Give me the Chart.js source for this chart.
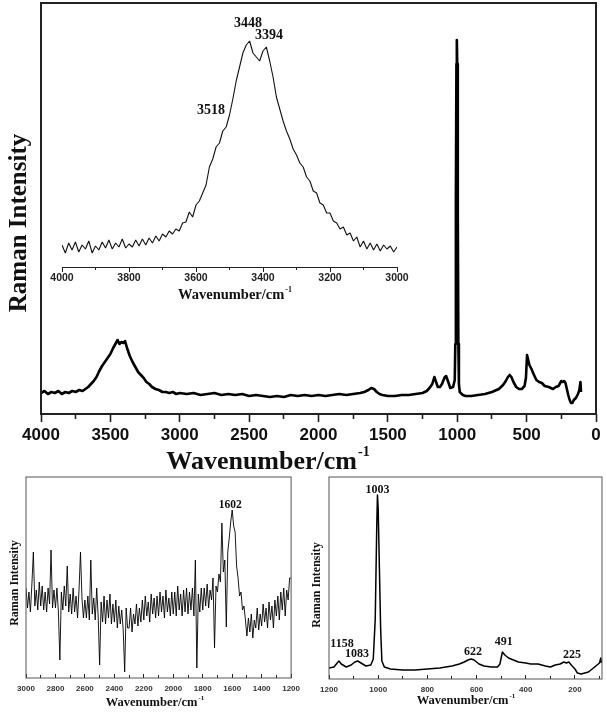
<!DOCTYPE html>
<html>
<head>
<meta charset="utf-8">
<script src="https://cdn.jsdelivr.net/npm/chart.js@4.4.0/dist/chart.umd.min.js"></script>
<style>
html, body { margin: 0; padding: 0; background: #fff; }
#wrap { position: relative; width: 607px; height: 720px; overflow: hidden; }
canvas { position: absolute; }
</style>
</head>
<body>
<div id="wrap">
  <canvas id="main" width="607" height="480" style="left:0px;top:0px"></canvas>
  <canvas id="inset" width="420" height="310" style="left:0px;top:0px"></canvas>
  <canvas id="left" width="310" height="250" style="left:0px;top:470px"></canvas>
  <canvas id="right" width="307" height="250" style="left:300px;top:470px"></canvas>
</div>
<script>
// full spectrum (wavenumber / relative intensity)
var MAIN_WN = [4000,3975,3950,3925,3900,3875,3850,3825,3800,3775,3750,3725,3700,3680,3660,3640,3620,3600,3580,3560,3540,3520,3500,3480,3460,3448,3435,3420,3405,3394,3380,3360,3340,3320,3300,3280,3260,3240,3220,3200,3175,3150,3125,3100,3075,3050,3025,3000,2950,2900,2850,2800,2750,2700,2650,2600,2550,2500,2450,2400,2350,2300,2250,2200,2150,2100,2050,2000,1950,1900,1850,1800,1750,1700,1670,1640,1620,1600,1580,1560,1540,1500,1450,1400,1350,1300,1250,1220,1200,1180,1165,1155,1140,1125,1110,1090,1080,1065,1050,1030,1018,1014,1010,1006,1003,1000,996,992,988,982,975,960,940,900,850,800,750,700,670,650,635,622,610,595,575,555,535,515,505,497,490,480,465,450,430,410,390,370,340,310,290,270,250,240,230,220,210,200,190,180,170,160,145,130,120,112,108];
var MAIN_INT = [21,23,20,22,21,23,20,22,21,23,22,24,23,25,27,30,33,37,43,48,52,56,60,66,71,74,70,72,71,73,66,58,52,47,42,39,36,32,30,27,25,24,22,22,21,22,20,21,20,21,19,20,21,19,20,19,20,18,19,18,17,18,17,19,18,19,18,19,18,19,20,19,20,21,22,24,26,25,22,20,19,18,18,19,19,20,21,23,26,30,37,33,27,27,30,37,38,32,26,27,34,70,210,350,374,350,200,70,30,22,21,19,18,18,19,20,22,25,29,33,37,39,37,32,27,25,25,28,36,59,55,49,45,40,34,32,31,28,27,25,27,28,33,32,33,31,25,19,14,11,11,14,16,20,24,32,22];
var MAIN_MAJOR = [4000,3500,3000,2500,2000,1500,1000,500,0];
var MAIN_MINOR = [3750,3250,2750,2250,1750,1250,750,250];

// inset: O-H stretching region
var INSET_WN = [4000,3990,3980,3970,3960,3950,3940,3930,3920,3910,3900,3890,3880,3870,3860,3850,3840,3830,3820,3810,3800,3790,3780,3770,3760,3750,3740,3730,3720,3710,3700,3690,3680,3670,3660,3650,3640,3630,3620,3610,3600,3590,3580,3570,3560,3550,3540,3530,3520,3510,3500,3490,3480,3470,3460,3450,3440,3430,3420,3410,3400,3390,3380,3370,3360,3350,3340,3330,3320,3310,3300,3290,3280,3270,3260,3250,3240,3230,3220,3210,3200,3190,3180,3170,3160,3150,3140,3130,3120,3110,3100,3090,3080,3070,3060,3050,3040,3030,3020,3010,3000];
var INSET_INT = [22,14,24,17,25,15,22,18,26,14,21,17,25,19,27,18,24,20,28,19,23,20,27,21,28,22,29,24,31,26,33,30,36,33,38,36,44,45,55,50,62,66,74,82,100,108,120,124,136,140,152,168,186,200,214,222,226,214,210,206,216,220,206,190,170,158,146,136,128,118,112,104,100,90,86,76,74,64,62,54,54,46,44,38,40,32,34,26,30,20,26,18,24,17,23,16,22,18,21,15,20];
var INSET_MAJOR = [4000,3800,3600,3400,3200,3000];
var INSET_MINOR = [3900,3700,3500,3300,3100];
var INSET_PEAKS = [3448,3394,3518];

// lower left: 3000-1200 region
var LEFT_WN = [3000,2990,2980,2970,2960,2950,2940,2930,2920,2910,2900,2890,2880,2870,2860,2850,2840,2830,2820,2810,2800,2790,2780,2770,2760,2750,2740,2730,2720,2710,2700,2690,2680,2670,2660,2650,2640,2630,2620,2610,2600,2590,2580,2570,2560,2550,2540,2530,2520,2510,2500,2490,2480,2470,2460,2450,2440,2430,2420,2410,2400,2390,2380,2370,2360,2350,2340,2330,2320,2310,2300,2290,2280,2270,2260,2250,2240,2230,2220,2210,2200,2190,2180,2170,2160,2150,2140,2130,2120,2110,2100,2090,2080,2070,2060,2050,2040,2030,2020,2010,2000,1990,1980,1970,1960,1950,1940,1930,1920,1910,1900,1890,1880,1870,1860,1850,1840,1830,1820,1810,1800,1790,1780,1770,1760,1750,1740,1730,1720,1710,1700,1690,1680,1670,1660,1650,1640,1630,1620,1610,1600,1590,1580,1570,1560,1550,1540,1530,1520,1510,1500,1490,1480,1470,1460,1450,1440,1430,1420,1410,1400,1390,1380,1370,1360,1350,1340,1330,1320,1310,1300,1290,1280,1270,1260,1250,1240,1230,1220,1210,1200];
var LEFT_INT = [90,70,86,66,94,126,72,88,68,96,72,92,68,86,66,90,74,128,70,88,70,90,66,18,86,68,92,72,112,66,84,64,90,66,82,60,88,126,80,60,78,60,82,58,118,64,80,58,90,62,13,76,56,82,54,78,60,84,54,74,56,78,50,72,54,68,48,6,70,50,50,70,46,64,54,74,52,70,56,78,58,82,62,76,56,84,64,80,60,82,62,86,66,82,60,88,66,80,62,86,64,86,62,92,68,84,62,88,66,90,64,86,68,90,62,118,10,84,66,90,68,90,72,94,70,88,78,100,30,92,86,104,96,155,106,118,51,126,140,156,168,152,146,112,100,82,86,68,72,58,42,60,46,64,40,58,50,70,48,64,52,74,56,70,50,76,58,72,50,78,62,82,58,86,68,90,62,88,78,100,100];
var LEFT_MAJOR = [3000,2800,2600,2400,2200,2000,1800,1600,1400,1200];
var LEFT_MINOR = [2900,2700,2500,2300,2100,1900,1700,1500,1300];
var LEFT_PEAKS = [1602];

// lower right: 1200-100 region
var RIGHT_WN = [1200,1180,1170,1160,1150,1130,1110,1095,1083,1070,1050,1030,1020,1012,1006,1003,1000,995,990,985,975,950,900,850,800,750,700,670,650,635,622,610,590,570,540,515,505,495,485,470,450,430,400,380,350,320,300,280,260,245,235,225,215,200,190,175,160,145,130,115,100,95,92];
var RIGHT_INT = [11,12,15,18,15,12,14,17,18,16,13,14,20,60,150,184,170,110,50,18,12,10,9,9,10,11,13,15,17,19,20,19,15,13,12,12,15,27,24,21,19,17,16,15,15,13,12,14,15,17,16,17,14,10,6,5,6,7,10,13,16,21,16];
var RIGHT_MAJOR = [1200,1000,800,600,400,200];
var RIGHT_MINOR = [1100,900,700,500,300,100];
var RIGHT_PEAKS = [1003,1158,1083,622,491,225];

function pts(xs, ys) {
  return xs.map(function (x, i) { return { x: x, y: ys[i] }; });
}

// axis titles, peak labels and the box round the plot
var textPlugin = {
  id: 'texts',
  afterDraw: function (chart, args, opts) {
    var ctx = chart.ctx;
    var xs = chart.scales.x, ys = chart.scales.y;
    ctx.save();
    ctx.fillStyle = '#111';
    ctx.textBaseline = 'middle';
    ctx.textAlign = 'center';
    (opts.peaks || []).forEach(function (p) {
      ctx.font = 'bold ' + p.size + 'px "Liberation Serif"';
      ctx.fillText(p.text, xs.getPixelForValue(p.wn), ys.getPixelForValue(p.v));
    });
    (opts.titles || []).forEach(function (t) {
      var base = 'bold ' + t.size + 'px "Liberation Serif"';
      var small = 'bold ' + Math.round(t.size * 0.55) + 'px "Liberation Serif"';
      ctx.save();
      ctx.translate(t.x, t.y);
      if (t.rot) ctx.rotate(t.rot);
      ctx.font = base;
      var w = ctx.measureText(t.text).width;
      var sw = 0;
      if (t.sup) { ctx.font = small; sw = ctx.measureText(t.sup).width + 1; }
      var x0 = -(w + sw) / 2;
      ctx.textAlign = 'left';
      ctx.font = base;
      ctx.fillText(t.text, x0, 0);
      if (t.sup) {
        ctx.font = small;
        ctx.fillText(t.sup, x0 + w + 1, -t.size * 0.38);
      }
      ctx.restore();
    });
    if (opts.frame) {
      var a = chart.chartArea;
      ctx.strokeStyle = opts.frame.color;
      ctx.lineWidth = opts.frame.width;
      ctx.strokeRect(a.left, a.top, a.right - a.left, a.bottom - a.top);
    }
    ctx.restore();
  }
};

function axes(o) {
  return {
    x: {
      type: 'linear', axis: 'x', position: 'bottom', reverse: true, min: o.min, max: o.max,
      afterBuildTicks: function (s) { s.ticks = o.major.map(function (v) { return { value: v }; }); },
      afterFit: function (s) { s.height = o.height; },
      border: { display: o.border, color: '#222', width: 1 },
      grid: { drawOnChartArea: false, tickLength: o.tl, color: '#222', tickWidth: o.tw },
      ticks: {
        autoSkip: false, maxRotation: 0, padding: o.pad, color: o.tc,
        font: { family: 'Liberation Sans', size: o.fs, weight: 'bold' },
        callback: function (v) { return String(v); }
      }
    },
    xm: {
      type: 'linear', axis: 'x', position: 'bottom', reverse: true, min: o.min, max: o.max, weight: -1,
      afterBuildTicks: function (s) { s.ticks = o.minor.map(function (v) { return { value: v }; }); },
      afterFit: function (s) { s.height = 0; },
      border: { display: false },
      grid: { drawOnChartArea: false, tickLength: o.tlm, color: '#222', tickWidth: o.tw },
      ticks: { display: false }
    },
    y: { display: false, min: 0, max: o.ymax }
  };
}

function lineSet(data, color, width, join) {
  return {
    data: data, borderColor: color, borderWidth: width, pointRadius: 0,
    fill: false, tension: 0, borderJoinStyle: join
  };
}

function makeChart(id, dataset, padding, scales, texts) {
  return new Chart(document.getElementById(id), {
    type: 'line',
    data: { datasets: [dataset] },
    options: {
      responsive: false, animation: false, events: [],
      layout: { padding: padding },
      scales: scales,
      plugins: { legend: { display: false }, tooltip: { enabled: false }, texts: texts }
    },
    plugins: [textPlugin]
  });
}

makeChart('main',
  lineSet(pts(MAIN_WN, MAIN_INT), '#000', 2.6, 'round'),
  { left: 41, top: 3, right: 11, bottom: 0 },
  axes({ min: 0, max: 4000, major: MAIN_MAJOR, minor: MAIN_MINOR, height: 66, border: false,
         tl: 8, tlm: 5, tw: 1.6, pad: 3, fs: 17, tc: '#111', ymax: 411 }),
  {
    frame: { color: '#222', width: 2 },
    titles: [
      { text: 'Raman Intensity', x: 20, y: 223, size: 25, rot: -Math.PI / 2 },
      { text: 'Wavenumber/cm', sup: '-1', x: 268, y: 462, size: 26 }
    ]
  });

makeChart('inset',
  lineSet(pts(INSET_WN, INSET_INT), '#111', 1.1, 'bevel'),
  { left: 62, top: 12, right: 23, bottom: 0 },
  axes({ min: 3000, max: 4000, major: INSET_MAJOR, minor: INSET_MINOR, height: 43, border: true,
         tl: 5, tlm: 3, tw: 1, pad: 0, fs: 10.5, tc: '#222', ymax: 255 }),
  {
    peaks: [
      { text: String(INSET_PEAKS[0]), wn: 3445, v: 244, size: 14 },
      { text: String(INSET_PEAKS[1]), wn: 3382, v: 232, size: 14 },
      { text: String(INSET_PEAKS[2]), wn: 3555, v: 157, size: 14 }
    ],
    titles: [{ text: 'Wavenumber/cm', sup: '-1', x: 235, y: 295, size: 14.5 }]
  });

makeChart('left',
  lineSet(pts(LEFT_WN, LEFT_INT), '#000', 0.9, 'bevel'),
  { left: 26, top: 7, right: 9, bottom: 0 },
  axes({ min: 1200, max: 3000, major: LEFT_MAJOR, minor: LEFT_MINOR, height: 42, border: false,
         tl: -4, tlm: -3, tw: 1, pad: 10, fs: 8, tc: '#333', ymax: 201 }),
  {
    frame: { color: '#555', width: 1 },
    peaks: [{ text: String(LEFT_PEAKS[0]), wn: 1613, v: 173, size: 11.5 }],
    titles: [
      { text: 'Raman Intensity', x: 15, y: 113, size: 12, rot: -Math.PI / 2 },
      { text: 'Wavenumber/cm', sup: '-1', x: 155, y: 233, size: 12.5 }
    ]
  });

makeChart('right',
  lineSet(pts(RIGHT_WN, RIGHT_INT), '#000', 1.5, 'round'),
  { left: 29, top: 7, right: 5, bottom: 0 },
  axes({ min: 90, max: 1200, major: RIGHT_MAJOR, minor: RIGHT_MINOR, height: 41, border: false,
         tl: -4, tlm: -3, tw: 1, pad: 10, fs: 8, tc: '#333', ymax: 202 }),
  {
    frame: { color: '#555', width: 1 },
    peaks: [
      { text: String(RIGHT_PEAKS[0]), wn: 1003, v: 189, size: 12 },
      { text: String(RIGHT_PEAKS[1]), wn: 1147, v: 35, size: 12 },
      { text: String(RIGHT_PEAKS[2]), wn: 1086, v: 25, size: 12 },
      { text: String(RIGHT_PEAKS[3]), wn: 615, v: 27, size: 12 },
      { text: String(RIGHT_PEAKS[4]), wn: 489, v: 37, size: 12 },
      { text: String(RIGHT_PEAKS[5]), wn: 212, v: 24, size: 12 }
    ],
    titles: [
      { text: 'Raman Intensity', x: 17, y: 115, size: 12, rot: -Math.PI / 2 },
      { text: 'Wavenumber/cm', sup: '-1', x: 166, y: 231, size: 12.5 }
    ]
  });
</script>
</body>
</html>
